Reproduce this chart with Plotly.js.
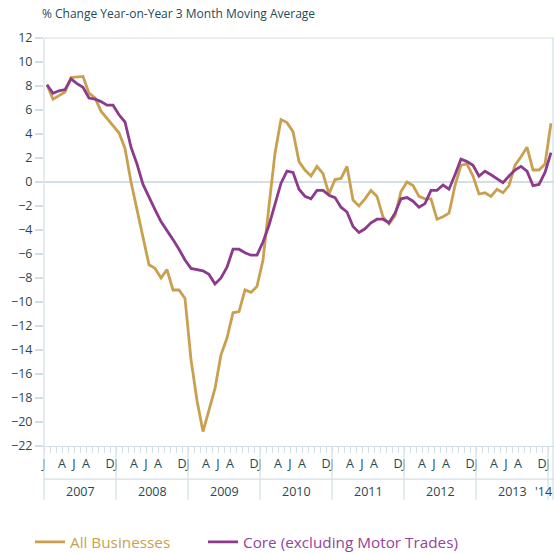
<!DOCTYPE html>
<html><head><meta charset="utf-8">
<script src="https://cdn.plot.ly/plotly-3.0.1.min.js"></script>
<style>html,body{margin:0;padding:0;background:#fff}#chart{width:554px;height:554px}</style>
</head><body><div id="chart"></div>
<script>
// Tick labels
const yearLabels = ['2007','2008','2009','2010','2011','2012','2013',"'14"];
const monthLetters = ['J','','','A','','J','','A','','','','D'];
const seriesNames = ['All Businesses','Core (excluding Motor Trades)'];

// Monthly values, Jan 2007 - Jan 2014
const allBusinesses = [
  8.1, 6.9, 7.2, 7.5, 8.7, 8.75, 8.8, 7.4, 7.0, 5.9, 5.3, 4.7,
  4.1, 2.8, 0.0, -2.3, -4.5, -6.9, -7.2, -8.0, -7.3, -9.0, -9.0, -9.7,
  -14.8, -18.2, -20.8, -19.0, -17.2, -14.4, -13.0, -10.9, -10.8, -9.0, -9.2, -8.7,
  -6.5, -2.0, 2.4, 5.2, 4.95, 4.2, 1.7, 1.0, 0.5, 1.3, 0.7, -1.0,
  0.2, 0.3, 1.3, -1.5, -2.0, -1.4, -0.7, -1.2, -2.9, -3.5, -2.8, -0.8,
  0.0, -0.3, -1.2, -1.4, -1.4, -3.1, -2.9, -2.6, -0.3, 1.4, 1.5, 0.5,
  -1.0, -0.9, -1.2, -0.6, -0.9, -0.3, 1.4, 2.1, 2.9, 1.0, 1.0, 1.5,
  4.9
];
const coreExMotor = [
  8.1, 7.4, 7.6, 7.7, 8.6, 8.2, 7.9, 7.0, 6.9, 6.7, 6.4, 6.4,
  5.6, 5.0, 2.9, 1.5, -0.2, -1.3, -2.3, -3.3, -4.0, -4.8, -5.6, -6.5,
  -7.2, -7.3, -7.4, -7.7, -8.5, -8.0, -7.1, -5.6, -5.6, -5.9, -6.1, -6.1,
  -5.0, -3.6, -1.9, -0.1, 0.9, 0.8, -0.6, -1.2, -1.4, -0.7, -0.7, -1.1,
  -1.3, -2.1, -2.5, -3.7, -4.2, -3.9, -3.4, -3.1, -3.1, -3.4, -2.6, -1.4,
  -1.3, -1.6, -2.1, -1.8, -0.7, -0.7, -0.25, -0.6, 0.6, 1.9, 1.7, 1.4,
  0.5, 0.9, 0.6, 0.25, -0.05, 0.5, 1.0, 1.3, 0.9, -0.3, -0.2, 0.8,
  2.45
];

const GOLD = '#c9a04f', PURPLE = '#8c3a8c', TEXT = '#1e4a57', GRID = '#d3dfe4';
const n = allBusinesses.length;
const x = allBusinesses.map((_, i) => i);

const tickvals = [], ticktext = [];
for (let i = 0; i <= n; i++) {
  tickvals.push(i - 0.5);
  ticktext.push(i < n ? monthLetters[i % 12] : '');
}

const traces = [
  {x: x, y: allBusinesses, type: 'scatter', mode: 'lines', legend: 'legend',
   name: '<span style="color:#c9a04f">' + seriesNames[0] + '</span>',
   line: {color: GOLD, width: 2.8}},
  {x: x, y: coreExMotor, type: 'scatter', mode: 'lines', legend: 'legend2',
   name: '<span style="color:#94439a">' + seriesNames[1] + '</span>',
   line: {color: PURPLE, width: 2.8}}
];

const yBottom = -0.132, yBand = -0.081;
const shapes = [
  {type: 'line', xref: 'paper', yref: 'paper', x0: 0, x1: 1, y0: 1, y1: 1, line: {color: GRID, width: 1.2}},
  {type: 'line', xref: 'paper', yref: 'paper', x0: 0, x1: 1, y0: yBand, y1: yBand, line: {color: GRID, width: 1.2}},
  {type: 'line', xref: 'paper', yref: 'paper', x0: 0, x1: 0, y0: 1, y1: yBottom, line: {color: GRID, width: 1.2}},
  {type: 'line', xref: 'paper', yref: 'paper', x0: 0.998, x1: 0.998, y0: 1, y1: yBottom, line: {color: GRID, width: 1.2}}
];
const annotations = [];
yearLabels.forEach((lab, k) => {
  if (k > 0) shapes.push({type: 'line', xref: 'x', yref: 'paper', x0: 12 * k - 0.5, x1: 12 * k - 0.5, y0: 0, y1: yBottom, line: {color: GRID, width: 1.2}});
  const last = k === yearLabels.length - 1;
  annotations.push({xref: 'x', yref: 'paper', x: last ? n - 0.5 : 12 * k + 5.5, y: -0.112, xanchor: last ? 'right' : 'center', yanchor: 'middle',
    text: lab, showarrow: false, font: {family: 'Open Sans', size: 12.5, color: TEXT}});
});

const legendBase = {orientation: 'h', xanchor: 'left', y: -0.235, yanchor: 'middle', bgcolor: 'rgba(0,0,0,0)',
                    font: {family: 'Open Sans', size: 15.3}};

const layout = {
  width: 554, height: 554,
  margin: {l: 44, r: 0, t: 38, b: 108, autoexpand: false},
  paper_bgcolor: '#fff', plot_bgcolor: '#fff',
  font: {family: 'Open Sans', color: TEXT},
  title: {text: '% Change Year-on-Year 3 Month Moving Average', xref: 'container', x: 42 / 554, xanchor: 'left',
          yref: 'container', y: 1 - 14 / 554, yanchor: 'middle', font: {family: 'Open Sans', size: 12, color: TEXT}},
  xaxis: {range: [-0.5, n - 0.5], tickmode: 'array', tickvals: tickvals, ticktext: ticktext, tickangle: 0,
          ticks: 'outside', ticklen: 6, tickcolor: GRID, tickwidth: 1, showgrid: false, zeroline: false,
          showline: true, linecolor: GRID, linewidth: 1.2, tickfont: {size: 12.5, color: TEXT}, automargin: false, fixedrange: true},
  yaxis: {range: [-22, 12], dtick: 2, tick0: 0, ticks: 'outside', ticklen: 8, tickcolor: GRID, tickwidth: 1.2,
          showgrid: false, zeroline: true, zerolinecolor: GRID, zerolinewidth: 1.5, automargin: false,
          showline: false, tickfont: {size: 12.5, color: TEXT}, fixedrange: true},
  showlegend: true,
  legend: Object.assign({x: -0.0275}, legendBase),
  legend2: Object.assign({x: 0.3118}, legendBase),
  shapes: shapes,
  annotations: annotations
};

Plotly.newPlot('chart', traces, layout, {displayModeBar: false, staticPlot: true});
</script>
</body></html>
